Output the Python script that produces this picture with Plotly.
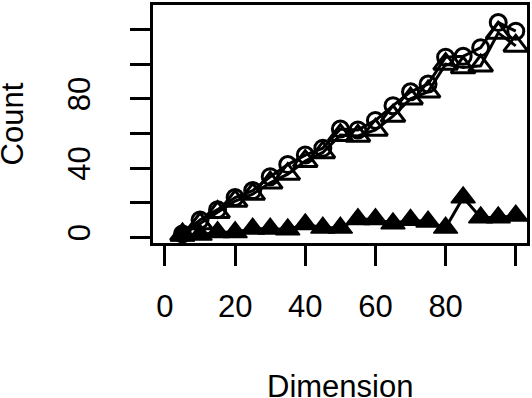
import plotly.graph_objects as go

dimension = [5, 10, 15, 20, 25, 30, 35, 40, 45, 50, 55, 60, 65, 70, 75, 80, 85, 90, 95, 100]
count_circle = [2, 10, 16, 23, 27, 35, 42, 47.5, 51.5, 62.5, 62, 67.5, 76, 84, 88.5, 104, 104.5, 109.5, 124, 119]
count_open_tri = [1.5, 8, 14.5, 21, 25, 31.5, 36.5, 44, 49, 59, 58.5, 62, 70, 80, 84, 100, 98, 99, 118, 110.5]
count_filled_tri = [1, 1.5, 3, 3, 5, 5, 4.5, 7.5, 5.5, 5.5, 10.5, 10.5, 8, 10, 9, 5.5, 23, 11.5, 11.5, 12.5]

x_tickvals = [0, 20, 40, 60, 80, 100]
x_ticktext = ["0", "20", "40", "60", "80", ""]
y_tickvals = [0, 20, 40, 60, 80, 100, 120]
y_ticktext = ["0", "", "40", "", "80", "", ""]

FONT = "Liberation Sans, Arial, Helvetica, sans-serif"

fig = go.Figure()
fig.add_trace(go.Scatter(
    x=dimension, y=count_circle, mode="lines+markers",
    line=dict(color="black", width=3),
    marker=dict(symbol="circle-open", size=16, color="black", line=dict(width=3, color="black")),
))
fig.add_trace(go.Scatter(
    x=dimension, y=count_open_tri, mode="lines+markers",
    line=dict(color="black", width=3),
    marker=dict(symbol="triangle-up-open", size=21, color="black", line=dict(width=3, color="black")),
))
fig.add_trace(go.Scatter(
    x=dimension, y=count_filled_tri, mode="lines+markers",
    line=dict(color="black", width=3),
    marker=dict(symbol="triangle-up", size=21, color="black", line=dict(width=1.5, color="black")),
))

fig.update_layout(
    width=532, height=398,
    margin=dict(l=153, r=4, t=2, b=155, pad=0),
    paper_bgcolor="white", plot_bgcolor="white",
    showlegend=False,
    font=dict(family=FONT, size=31, color="black"),
    xaxis=dict(
        range=[-3.41, 103.2], tickvals=x_tickvals, ticktext=x_ticktext,
        showgrid=False, zeroline=False,
        showline=True, mirror=True, linecolor="black", linewidth=3,
        ticks="outside", ticklen=20, tickwidth=3, tickcolor="black",
        ticklabelstandoff=14,
        tickfont=dict(family=FONT, size=31, color="black"),
    ),
    yaxis=dict(
        range=[-3.25, 134.1], tickvals=y_tickvals, ticktext=y_ticktext,
        showgrid=False, zeroline=False,
        showline=True, mirror=True, linecolor="black", linewidth=3,
        ticks="outside", ticklen=20, tickwidth=3, tickcolor="black",
        tickangle=-90, ticklabelstandoff=28,
        tickfont=dict(family=FONT, size=31, color="black"),
    ),
    annotations=[
        dict(text="Dimension", xref="paper", yref="paper", x=0.5, y=(243 - 388) / 241,
             xanchor="center", yanchor="middle", showarrow=False,
             font=dict(family=FONT, size=31, color="black")),
        dict(text="Count", xref="paper", yref="paper", x=(12 - 153) / 375, y=0.5,
             xanchor="center", yanchor="middle", textangle=-90, showarrow=False,
             font=dict(family=FONT, size=31, color="black")),
    ],
)

fig.write_html("out.html", config={"displayModeBar": False},
               post_script="document.body.style.margin='0';document.body.style.overflow='hidden';")
